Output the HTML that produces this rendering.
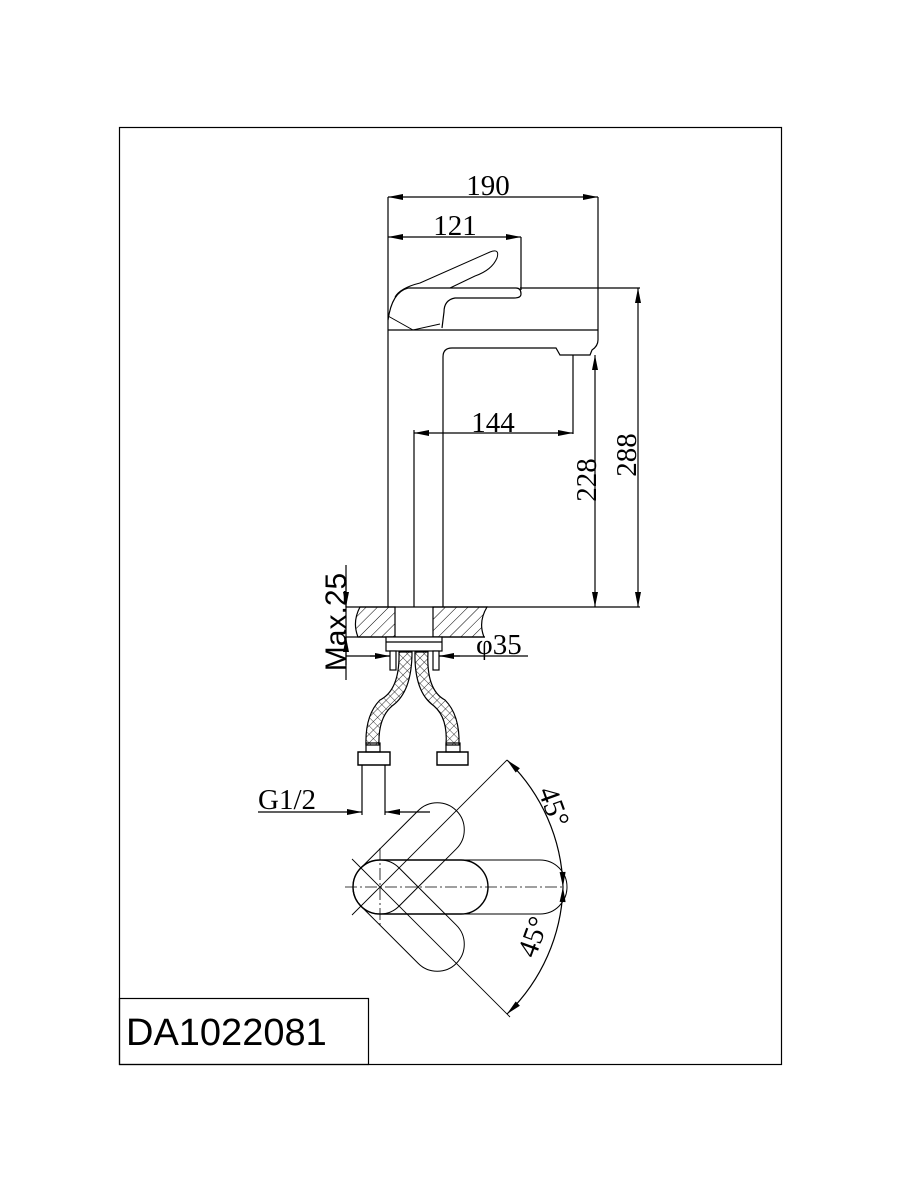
<!DOCTYPE html>
<html><head><meta charset="utf-8"><style>html,body{margin:0;padding:0;background:#fff}svg{display:block}</style></head><body>
<svg width="900" height="1200" viewBox="0 0 900 1200" xmlns="http://www.w3.org/2000/svg">
<defs>
<marker id="a" viewBox="0 0 10 4" refX="10" refY="2" markerWidth="16" markerHeight="6" markerUnits="userSpaceOnUse" orient="auto-start-reverse"><path d="M0,0 L10,2 L0,4z" fill="#000"/></marker>
<pattern id="h" width="8" height="8" patternUnits="userSpaceOnUse" patternTransform="rotate(45)"><line x1="0" y1="0" x2="0" y2="8" stroke="#000" stroke-width="1"/></pattern>
<pattern id="x" width="6" height="6" patternUnits="userSpaceOnUse" patternTransform="rotate(45)"><path d="M0,0 H6 M0,0 V6" stroke="#000" stroke-width="0.8"/></pattern>
</defs>
<g fill="none" stroke="#000" stroke-width="1.2">
<rect x="119.5" y="127.5" width="662" height="937"/>
<rect x="119.5" y="998.5" width="249" height="66"/>
<path d="M388,197 V607 H640"/>
<path d="M598,197 V340 Q598,346 592,350 L590,355 H560 L556,348 H452 Q443,348 443,357 V607"/>
<path d="M388,330 H598"/>
<path d="M388,320 Q392,292 408,288 H516 Q521,288 521,294 Q521,298 514,298 H455 Q444,300 444,312 L442,328"/>
<path d="M388,316 L413,330 L440,324" stroke-width="1"/>
<path d="M395,297 Q400,288 420,283 L490,252 Q500,248 497,258 Q492,270 475,276 L450,288" stroke-width="1"/>
<path d="M414,430 V607"/>
<line x1="388" y1="197" x2="598" y2="197" marker-start="url(#a)" marker-end="url(#a)"/>
<line x1="388" y1="237" x2="521" y2="237" marker-start="url(#a)" marker-end="url(#a)"/>
<line x1="521" y1="237" x2="521" y2="290"/>
<line x1="520" y1="288" x2="640" y2="288"/>
<line x1="638" y1="288" x2="638" y2="607" marker-start="url(#a)" marker-end="url(#a)"/>
<line x1="573" y1="355" x2="573" y2="434"/>
<line x1="414" y1="433" x2="573" y2="433" marker-start="url(#a)" marker-end="url(#a)"/>
<line x1="595" y1="355" x2="595" y2="607" marker-start="url(#a)" marker-end="url(#a)"/>
<path d="M360,607 H395 V637 H358 Q352,622 360,607Z" fill="url(#h)"/>
<path d="M433,607 H487 Q478,622 484,637 H433Z" fill="url(#h)"/>
<line x1="346" y1="637" x2="485" y2="637"/>
<line x1="346" y1="565" x2="346" y2="680"/>
<line x1="346" y1="580" x2="346" y2="607" marker-end="url(#a)"/>
<line x1="346" y1="665" x2="346" y2="637" marker-end="url(#a)"/>
<line x1="346" y1="607" x2="388" y2="607"/>
<rect x="386" y="637" width="56" height="14" fill="#fff"/>
<line x1="386" y1="642" x2="442" y2="642"/>
<rect x="390" y="651" width="6" height="19" fill="#fff"/>
<rect x="433" y="651" width="6" height="19" fill="#fff"/>
<line x1="346" y1="656" x2="390" y2="656"/>
<line x1="370" y1="656" x2="390" y2="656" marker-end="url(#a)"/>
<line x1="460" y1="656" x2="439" y2="656" marker-end="url(#a)"/>
<line x1="439" y1="656" x2="528" y2="656"/>
<path d="M399,652 Q400,690 380,700 Q365,715 366,745 H379 Q378,718 392,706 Q412,692 412,652Z" fill="url(#x)"/>
<path d="M415,652 Q414,692 434,706 Q448,718 446,745 H459 Q460,715 445,700 Q426,690 428,652Z" fill="url(#x)"/>
<rect x="366" y="743" width="14" height="9"/>
<rect x="446" y="743" width="14" height="9"/>
<path d="M358,752 H390 V765 H358Z" stroke-width="1.4"/>
<path d="M437,752 H468 V765 H437Z" stroke-width="1.4"/>
<line x1="362" y1="765" x2="362" y2="815"/>
<line x1="385" y1="765" x2="385" y2="815"/>
<line x1="258" y1="812" x2="362" y2="812" marker-end="url(#a)"/>
<line x1="430" y1="812" x2="385" y2="812" marker-end="url(#a)"/>
<path d="M380,860 H540 A27,27 0 0 1 540,914 H380 A27,27 0 0 1 380,860Z" stroke-width="1"/>
<path d="M380,860 H461 A27,27 0 0 1 461,914 H380 A27,27 0 0 1 380,860Z" stroke-width="1.4"/>
<g transform="rotate(-45 380 887)" stroke-width="1"><path d="M380,860 H461 A27,27 0 0 1 461,914 H380 A27,27 0 0 1 380,860Z"/></g>
<g transform="rotate(45 380 887)" stroke-width="1"><path d="M380,860 H461 A27,27 0 0 1 461,914 H380 A27,27 0 0 1 380,860Z"/></g>
<line x1="345" y1="887" x2="565" y2="887" stroke-dasharray="12,3,2,3" stroke-width="0.8"/>
<line x1="380" y1="848" x2="380" y2="928" stroke-dasharray="12,3,2,3" stroke-width="0.8"/>
<line x1="352" y1="915" x2="507" y2="760" stroke-width="0.9"/>
<line x1="352" y1="859" x2="510" y2="1017" stroke-width="0.9"/>
<path d="M507,760 A183,183 0 0 1 563,887" marker-start="url(#a)" marker-end="url(#a)"/>
<path d="M563,887 A183,183 0 0 1 507,1014" marker-start="url(#a)" marker-end="url(#a)"/>
</g>
<g font-family="Liberation Serif, serif" font-size="29" fill="#000">
<text x="488" y="195" text-anchor="middle">190</text>
<text x="455" y="235" text-anchor="middle">121</text>
<text x="493" y="432" text-anchor="middle">144</text>
<text transform="translate(636,455) rotate(-90)" text-anchor="middle">288</text>
<text transform="translate(596,480) rotate(-90)" text-anchor="middle">228</text>
<text x="476" y="654">φ35</text>
<text x="258" y="809">G1/2</text>
<text transform="translate(545,810) rotate(70)" text-anchor="middle">45°</text>
<text transform="translate(542,940) rotate(-70)" text-anchor="middle">45°</text>
</g>
<text transform="translate(346,622) rotate(-90)" text-anchor="middle" font-family="Liberation Sans, sans-serif" font-size="30">Max.25</text>
<text x="126" y="1045" font-family="Liberation Sans, sans-serif" font-size="38">DA1022081</text>
</svg>
</body></html>
